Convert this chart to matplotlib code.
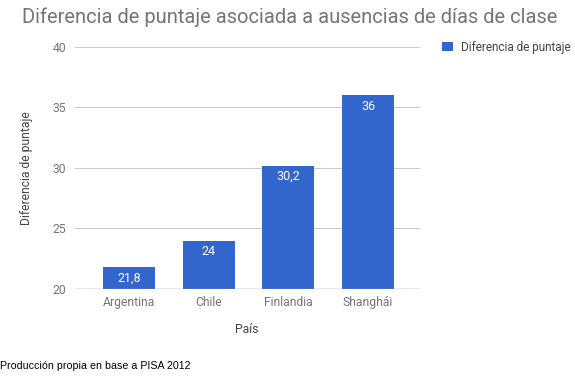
import matplotlib
matplotlib.use("Agg")
import matplotlib.pyplot as plt

paises = ["Argentina", "Chile", "Finlandia", "Shanghái"]
diferencia = [21.8, 24, 30.2, 36]
etiquetas = ["21,8", "24", "30,2", "36"]
yticks = [20, 25, 30, 35, 40]

plt.rcParams['font.family'] = ['Roboto', 'DejaVu Sans']
gris = '#757575'
azul = '#3366CC'

fig = plt.figure(figsize=(5.75, 3.82), dpi=100)
ax = fig.add_axes([0.130, 0.2435, 0.600, 0.6335])

x = list(range(len(paises)))
barras = ax.bar(x, [d - 20 for d in diferencia], bottom=20, width=0.65,
                color=azul, label="Diferencia de puntaje", zorder=3)
for xi, d, t in zip(x, diferencia, etiquetas):
    ax.text(xi, d - 0.35, t, ha='center', va='top', color='white', fontsize=9, zorder=4)

ax.set_ylim(20, 40)
ax.set_xlim(-0.68, 3.65)
ax.set_yticks(yticks)
ax.set_xticks(x)
ax.set_xticklabels(paises)
ax.grid(axis='y', color='#cccccc', linewidth=0.8, zorder=0)
ax.axhline(20, color='#9e9e9e', linewidth=1, zorder=5)
for s in ax.spines.values():
    s.set_visible(False)
ax.tick_params(axis='both', length=0, colors=gris, labelsize=8.7)
ax.tick_params(axis='y', pad=6)
ax.tick_params(axis='x', pad=5)

ax.set_ylabel("Diferencia de puntaje", color='#444444', fontsize=8.7, labelpad=14)
ax.set_xlabel("País", color='#444444', fontsize=8.7, labelpad=10)

fig.text(0.038, 0.955, "Diferencia de puntaje asociada a ausencias de días de clase",
         color=gris, fontsize=14.5, va='center', ha='left')

leg = ax.legend(loc='upper left', bbox_to_anchor=(1.035, 1.07), frameon=False,
                fontsize=8.5, handlelength=0.9, handleheight=0.9, handletextpad=0.7)
for t in leg.get_texts():
    t.set_color('#444444')

fig.text(0.0, 0.042, "Producción propia en base a PISA 2012", color='black',
         fontsize=7.7, family='Liberation Sans', va='center', ha='left')

fig.savefig("out.png", dpi=100)
